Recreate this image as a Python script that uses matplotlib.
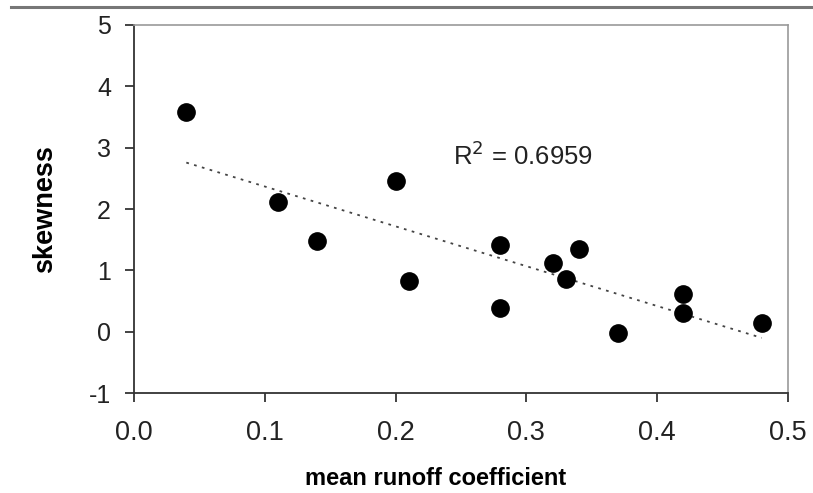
import matplotlib.pyplot as plt
import numpy as np
from matplotlib.lines import Line2D

plt.rcParams['font.family'] = ['Liberation Sans', 'DejaVu Sans']
plt.rcParams['axes.unicode_minus'] = False

# mean runoff coefficient vs skewness
runoff = [0.04, 0.11, 0.14, 0.20, 0.21, 0.28, 0.28, 0.32, 0.33, 0.34, 0.37, 0.42, 0.42, 0.48]
skew = [3.58, 2.12, 1.48, 2.45, 0.83, 1.42, 0.38, 1.12, 0.86, 1.35, -0.02, 0.62, 0.31, 0.14]
xticks = [0.0, 0.1, 0.2, 0.3, 0.4, 0.5]
yticks = [-1, 0, 1, 2, 3, 4, 5]
r2_text = "R$^2$ = 0.6959"

fig = plt.figure(figsize=(8.13, 4.93), dpi=100)
ax = fig.add_axes([0.1648, 0.2028, 0.8044, 0.7465])

# linear trend line
k, b = np.polyfit(runoff, skew, 1)
xl = np.array([min(runoff), max(runoff)])
ax.plot(xl, k * xl + b, ls=(0, (1.5, 3)), color='#444444', lw=1.3, zorder=1)

ax.scatter(runoff, skew, s=155, color='black', zorder=2)
ax.text(0.244, 2.72, r2_text, fontsize=18.5, color='#222222', va='baseline')

ax.set_xlim(0, 0.5)
ax.set_ylim(-1, 5)
ax.set_xticks(xticks)
ax.set_yticks(yticks)
ax.set_xticklabels(['%.1f' % v for v in xticks])
ax.tick_params(length=6.5, width=1.2, direction='out', colors='#222222')
ax.tick_params(axis='x', labelsize=19.5, pad=13)
ax.tick_params(axis='y', labelsize=18, pad=10)
for s in ['left', 'bottom']:
    ax.spines[s].set_linewidth(1.3)
    ax.spines[s].set_color('#333333')
for s in ['top', 'right']:
    ax.spines[s].set_linewidth(1.2)
    ax.spines[s].set_color('#999999')

ax.set_xlabel('mean runoff coefficient', fontsize=17, fontweight='bold', labelpad=15)
ax.xaxis.label.set_x(0.462)  # label sits a little left of centre in the original
ax.set_ylabel('skewness', fontsize=19.5, fontweight='bold', labelpad=22)

# rule line across the top of the figure
fig.add_artist(Line2D([0.013, 1.0], [0.986, 0.986], color='#777777', lw=2.2))

fig.savefig('out.png', dpi=100)
